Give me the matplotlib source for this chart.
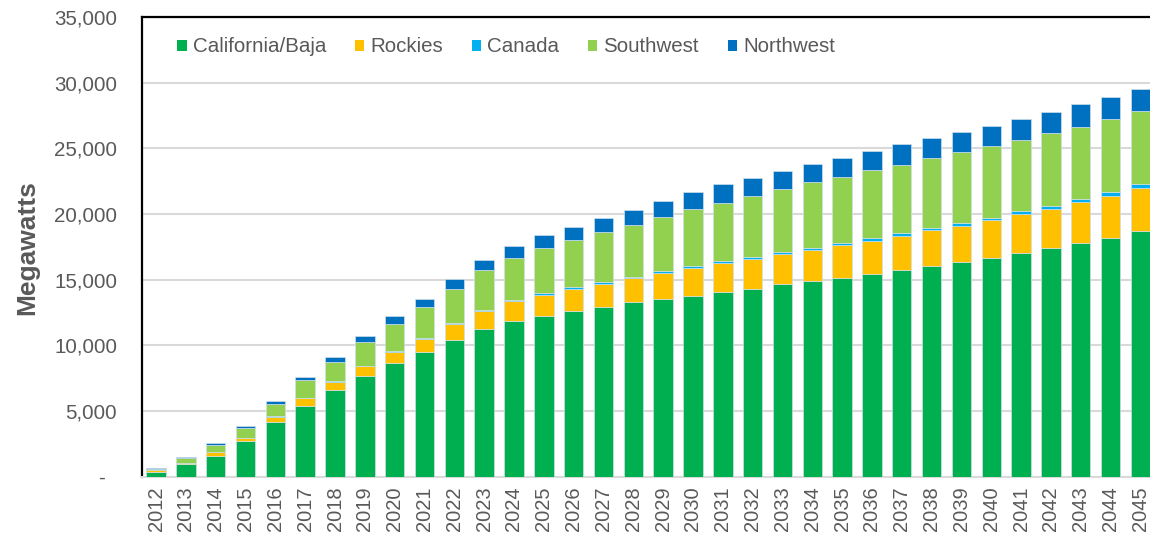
import numpy as np
import matplotlib
matplotlib.use('Agg')
import matplotlib.pyplot as plt

plt.rcParams['font.family'] = ['Liberation Sans', 'DejaVu Sans']

years = [str(y) for y in range(2012, 2046)]

california = [380, 930, 1590, 2680, 4130, 5400, 6570, 7680, 8620, 9460, 10400, 11240, 11830,
              12250, 12590, 12940, 13280, 13530, 13780, 14040, 14290, 14650, 14900, 15150,
              15410, 15740, 16060, 16320, 16670, 17010, 17440, 17770, 18200, 18710]
rockies = [110, 90, 250, 250, 400, 580, 650, 720, 880, 1030, 1180, 1360, 1520,
           1580, 1700, 1750, 1850, 1950, 2130, 2210, 2280, 2280, 2360, 2470,
           2540, 2610, 2720, 2790, 2880, 2970, 2940, 3120, 3200, 3300]
canada = [20, 10, 30, 20, 50, 30, 30, 40, 40, 80, 90, 90, 100,
          130, 170, 110, 100, 180, 150, 170, 180, 180, 180, 150,
          250, 180, 180, 180, 170, 250, 260, 260, 260, 260]
southwest = [90, 360, 530, 730, 970, 1340, 1500, 1820, 2090, 2370, 2620, 3050, 3200,
             3450, 3560, 3810, 3960, 4140, 4330, 4450, 4650, 4800, 4980, 5080,
             5160, 5230, 5330, 5410, 5490, 5410, 5510, 5500, 5580, 5580]
northwest = [70, 120, 130, 190, 200, 260, 350, 470, 580, 580, 760, 760, 940,
             970, 1010, 1110, 1120, 1190, 1270, 1410, 1370, 1370, 1370, 1440,
             1440, 1550, 1530, 1530, 1520, 1600, 1600, 1710, 1700, 1680]

series = [('California/Baja', california, '#00B050'),
          ('Rockies', rockies, '#FFC000'),
          ('Canada', canada, '#00B0F0'),
          ('Southwest', southwest, '#92D050'),
          ('Northwest', northwest, '#0070C0')]

fig = plt.figure(figsize=(11.5, 5.37), dpi=100)
ax = fig.add_axes([142 / 1150, 1 - 476.5 / 537, 1 - 142 / 1150, (476.5 - 17) / 537])

x = np.arange(len(years))
bottom = np.zeros(len(years))
for name, vals, color in series:
    ax.bar(x, vals, width=0.65, bottom=bottom, color=color, label=name,
           edgecolor='#d0dfe8', linewidth=0.5, zorder=3)
    bottom += np.array(vals)

ax.set_xlim(-0.47, 33.32)
ax.set_ylim(0, 35000)
ax.set_xticks(x)
ax.set_xticklabels(years, rotation=90, fontsize=14.5, color='#595959')
yt = list(range(0, 35001, 5000))
ax.set_yticks(yt)
ax.set_yticklabels(['-  '] + ['{:,}'.format(v) for v in yt[1:]], fontsize=14.8, color='#595959')
ax.tick_params(axis='both', length=0)
ax.tick_params(axis='y', pad=18)
ax.tick_params(axis='x', pad=7)

ax.grid(axis='y', color='#d9d9d9', linewidth=1.5, zorder=0)
ax.spines['left'].set_color('black')
ax.spines['left'].set_linewidth(1.6)
ax.spines['top'].set_color('black')
ax.spines['top'].set_linewidth(1.6)
ax.spines['right'].set_visible(False)
ax.spines['bottom'].set_color('#d9d9d9')
ax.spines['bottom'].set_linewidth(1.5)

fig.text(27 / 1150, 1 - 248 / 537, 'Megawatts', rotation=90, ha='center', va='center',
         fontsize=19, fontweight='bold', color='#595959')

leg = ax.legend(ncol=5, loc='center left', bbox_to_anchor=(0.035, 0.935), frameon=False,
                fontsize=14.8, handlelength=0.45, handleheight=0.45, handletextpad=0.3,
                columnspacing=1.4, borderpad=0, borderaxespad=0)
for t in leg.get_texts():
    t.set_color('#595959')
for h in leg.legend_handles:
    h.set_edgecolor('none')

plt.savefig('out.png', dpi=100)
